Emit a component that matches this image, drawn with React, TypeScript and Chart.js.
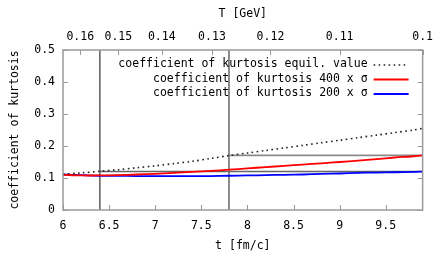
import React, { useEffect, useRef } from "react";
import { Chart, registerables } from "chart.js";

Chart.register(...registerables);

// ---- data ----
const tFm = [6.0, 6.2, 6.4, 6.6, 6.8, 7.0, 7.2, 7.4, 7.6, 7.8, 8.0, 8.2, 8.4, 8.6, 8.8, 9.0, 9.2, 9.4, 9.6, 9.8, 9.9];
const kurtEquil = [0.112, 0.116, 0.121, 0.126, 0.132, 0.138, 0.145, 0.152, 0.161, 0.170, 0.178, 0.186, 0.194, 0.202, 0.210, 0.218, 0.226, 0.234, 0.242, 0.250, 0.255];
const kurt400 = [0.110, 0.108, 0.108, 0.109, 0.111, 0.113, 0.116, 0.119, 0.122, 0.126, 0.130, 0.134, 0.138, 0.142, 0.146, 0.150, 0.154, 0.159, 0.164, 0.168, 0.171];
const kurt200 = [0.111, 0.109, 0.107, 0.107, 0.106, 0.106, 0.106, 0.106, 0.106, 0.107, 0.108, 0.109, 0.110, 0.111, 0.113, 0.114, 0.116, 0.117, 0.118, 0.119, 0.120];
const seriesLabels = [
  "coefficient of kurtosis equil. value",
  "coefficient of kurtosis 400 x σ",
  "coefficient of kurtosis 200 x σ",
];
const tTicks = [6, 6.5, 7, 7.5, 8, 8.5, 9, 9.5];
const tempTicksGeV = [0.16, 0.15, 0.14, 0.13, 0.12, 0.11, 0.1];
const yTicks = [0, 0.1, 0.2, 0.3, 0.4, 0.5];
const freezeTimes = [6.4, 7.8];
const freezeValues = [0.12, 0.171];
const T_TIMES_t = 0.99; // T [GeV] * t [fm/c]
const T_MIN = 6;
const T_MAX = 9.9;
const Y_MIN = 0;
const Y_MAX = 0.5;

const FONT = { family: "'DejaVu Sans Mono', monospace", size: 11.5 };

const framePlugin = {
  id: "gnuFrame",
  afterDatasetsDraw(chart: any) {
    const { ctx, chartArea } = chart;
    const { left, right, top, bottom } = chartArea;
    const len = 5;
    ctx.save();
    ctx.strokeStyle = "#9a9a9a";
    ctx.lineWidth = 1;
    ctx.beginPath();
    const sx = chart.scales.x;
    sx.ticks.forEach((tk: any) => {
      const p = Math.round(sx.getPixelForValue(tk.value)) + 0.5;
      ctx.moveTo(p, bottom);
      ctx.lineTo(p, bottom - len);
    });
    const sx2 = chart.scales.x2;
    sx2.ticks.forEach((tk: any) => {
      const p = Math.round(sx2.getPixelForValue(tk.value)) + 0.5;
      ctx.moveTo(p, top);
      ctx.lineTo(p, top + len);
    });
    const sy = chart.scales.y;
    sy.ticks.forEach((tk: any) => {
      const p = Math.round(sy.getPixelForValue(tk.value)) + 0.5;
      ctx.moveTo(left, p);
      ctx.lineTo(left + len, p);
    });
    const sy2 = chart.scales.y2;
    sy2.ticks.forEach((tk: any) => {
      const p = Math.round(sy2.getPixelForValue(tk.value)) + 0.5;
      ctx.moveTo(right, p);
      ctx.lineTo(right - len, p);
    });
    ctx.stroke();
    ctx.strokeStyle = "#9a9a9a";
    ctx.lineWidth = 1.5;
    ctx.strokeRect(left, top, right - left, bottom - top);
    ctx.restore();
  },
  afterDraw(chart: any) {
    const { ctx, chartArea } = chart;
    const textRight = chartArea.right - 55;
    const sampleL = chartArea.right - 49;
    const sampleR = chartArea.right - 14;
    ctx.save();
    ctx.font = `${FONT.size}px ${FONT.family}`;
    ctx.textAlign = "right";
    ctx.textBaseline = "middle";
    ctx.fillStyle = "#000";
    chart.data.datasets.forEach((ds: any, i: number) => {
      if (!ds.inLegend) return;
      const y = chartArea.top + 14.5 + i * 14.5;
      ctx.fillText(ds.label, textRight, y);
      ctx.beginPath();
      ctx.strokeStyle = ds.borderColor;
      ctx.lineWidth = ds.borderWidth;
      ctx.setLineDash(ds.borderDash || []);
      ctx.moveTo(sampleL, y + 0.5);
      ctx.lineTo(sampleR, y + 0.5);
      ctx.stroke();
      ctx.setLineDash([]);
    });
    ctx.restore();
  },
};

export default function App() {
  const ref = useRef<HTMLCanvasElement | null>(null);

  useEffect(() => {
    if (!ref.current) return;
    const series = (arr: number[]) => tFm.map((t, i) => ({ x: t, y: arr[i] }));
    const chart = new Chart(ref.current, {
      type: "line",
      data: {
        datasets: [
          {
            label: seriesLabels[0],
            data: series(kurtEquil),
            borderColor: "#222222",
            borderWidth: 1.6,
            borderDash: [1.6, 3.4],
            pointRadius: 0,
            tension: 0.3,
            inLegend: true,
          } as any,
          {
            label: seriesLabels[1],
            data: series(kurt400),
            borderColor: "#ff0000",
            borderWidth: 1.8,
            pointRadius: 0,
            tension: 0.3,
            inLegend: true,
          } as any,
          {
            label: seriesLabels[2],
            data: series(kurt200),
            borderColor: "#0000ff",
            borderWidth: 1.8,
            pointRadius: 0,
            tension: 0.3,
            inLegend: true,
          } as any,
          {
            label: "freeze1",
            data: [{ x: freezeTimes[0], y: Y_MIN }, { x: freezeTimes[0], y: Y_MAX }],
            borderColor: "#333333",
            borderWidth: 1.2,
            pointRadius: 0,
          },
          {
            label: "freeze1h",
            data: [{ x: freezeTimes[0], y: freezeValues[0] }, { x: T_MAX, y: freezeValues[0] }],
            borderColor: "#666666",
            borderWidth: 1.5,
            pointRadius: 0,
          },
          {
            label: "freeze2",
            data: [{ x: freezeTimes[1], y: Y_MIN }, { x: freezeTimes[1], y: Y_MAX }],
            borderColor: "#808080",
            borderWidth: 1.8,
            pointRadius: 0,
          },
          {
            label: "freeze2h",
            data: [{ x: freezeTimes[1], y: freezeValues[1] }, { x: T_MAX, y: freezeValues[1] }],
            borderColor: "#8a8a8a",
            borderWidth: 1.8,
            pointRadius: 0,
          },
        ],
      },
      options: {
        responsive: false,
        animation: false,
        devicePixelRatio: 1,
        layout: { padding: 0 },
        plugins: { legend: { display: false }, tooltip: { enabled: false } },
        scales: {
          x: {
            type: "linear",
            position: "bottom",
            min: T_MIN,
            max: T_MAX,
            afterBuildTicks: (s: any) => { s.ticks = tTicks.map((v) => ({ value: v })); },
            afterFit: (s: any) => { s.height = 43; },
            ticks: { callback: (v: any) => String(v), font: FONT, color: "#000", padding: 9, maxRotation: 0, autoSkip: false },
            grid: { display: false, drawTicks: false },
            border: { display: false },
            title: { display: true, text: "t [fm/c]", font: FONT, color: "#000", padding: { top: 0, bottom: 0 } },
          },
          x2: {
            type: "linear",
            position: "top",
            min: T_MIN,
            max: T_MAX,
            afterBuildTicks: (s: any) => { s.ticks = tempTicksGeV.map((T) => ({ value: T_TIMES_t / T })); },
            afterFit: (s: any) => { s.height = 50; },
            ticks: { callback: (_v: any, i: number) => String(tempTicksGeV[i]), font: FONT, color: "#000", padding: 6, maxRotation: 0, autoSkip: false },
            grid: { display: false, drawTicks: false },
            border: { display: false },
            title: { display: true, text: "T [GeV]", font: FONT, color: "#000", padding: { top: 7, bottom: 0 } },
          },
          y: {
            type: "linear",
            position: "left",
            min: Y_MIN,
            max: Y_MAX,
            afterBuildTicks: (s: any) => { s.ticks = yTicks.map((v) => ({ value: v })); },
            afterFit: (s: any) => { s.width = 63; },
            ticks: { callback: (v: any) => String(v), font: FONT, color: "#000", padding: 8, autoSkip: false },
            grid: { display: false, drawTicks: false },
            border: { display: false },
            title: { display: true, text: "coefficient of kurtosis", font: FONT, color: "#000", padding: { top: 8, bottom: 0 } },
          },
          y2: {
            type: "linear",
            position: "right",
            min: Y_MIN,
            max: Y_MAX,
            afterBuildTicks: (s: any) => { s.ticks = yTicks.map((v) => ({ value: v })); },
            afterFit: (s: any) => { s.width = 12; },
            ticks: { display: false },
            grid: { display: false, drawTicks: false },
            border: { display: false },
          },
        },
      } as any,
      plugins: [framePlugin],
    });
    return () => chart.destroy();
  }, []);

  return (
    <div style={{ position: "fixed", left: 0, top: 0, width: 439, height: 253, background: "#fff" }}>
      <canvas ref={ref} width={439} height={253} style={{ display: "block", width: 439, height: 253 }} />
    </div>
  );
}
